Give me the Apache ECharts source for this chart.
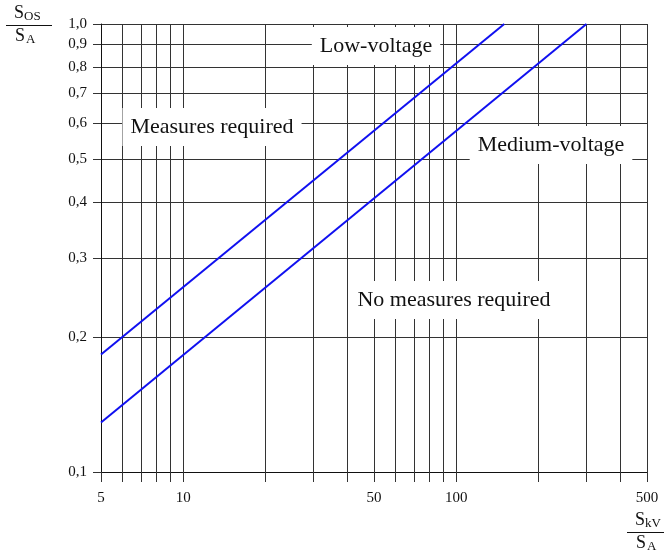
<!DOCTYPE html>
<html>
<head>
<meta charset="utf-8">
<script src="https://cdn.jsdelivr.net/npm/echarts@6/dist/echarts.min.js"></script>
<style>
  html, body { margin: 0; padding: 0; background: #fff; }
  #chart { width: 664px; height: 556px; }
</style>
</head>
<body>
<div id="chart"></div>
<script>
// grid positions and labels on both log axes
const xTicks = [5, 6, 7, 8, 9, 10, 20, 30, 40, 50, 60, 70, 80, 90, 100, 200, 300, 400, 500];
const xLabels = [5, 10, 50, 100, 500];
const yTicks = [0.1, 0.2, 0.3, 0.4, 0.5, 0.6, 0.7, 0.8, 0.9, 1.0];
const yLabels = [0.1, 0.2, 0.3, 0.4, 0.5, 0.6, 0.7, 0.8, 0.9, 1.0];

// limit lines (S_kV/S_A, S_OS/S_A)
const lowVoltage = [[5, 0.183], [150, 1.0]];
const mediumVoltage = [[5, 0.129], [300, 1.0]];

const serif = 'Liberation Serif';

function boxLabel(text, x, y) {
    return {
        type: 'text',
        x: x,
        y: y,
        z: 100,
        style: {
            text: text,
            font: '22px "Liberation Serif"',
            fill: '#111',
            align: 'center',
            verticalAlign: 'middle',
            backgroundColor: '#fff',
            padding: [8, 8, 8, 8]
        }
    };
}

function txt(s, x, y, size) {
    return { type: 'text', x: x, y: y, style: { text: s, font: size + 'px "Liberation Serif"', fill: '#111' } };
}

// S_top / S_bottom written as a stacked fraction
function fraction(x, y, topSub, bottomSub, lineLeft, lineRight) {
    return [
        txt('S', x, y, 18),
        txt(topSub, x + 10, y + 6, 13),
        { type: 'line', shape: { x1: lineLeft, y1: y + 21.5, x2: lineRight, y2: y + 21.5 }, style: { stroke: '#111', lineWidth: 1 } },
        txt('S', x + 1, y + 23, 18),
        txt(bottomSub, x + 12, y + 29, 13)
    ];
}

const chart = echarts.init(document.getElementById('chart'));

const option = {
    backgroundColor: '#fff',
    animation: false,
    grid: {
        left: 101,
        right: 17,
        top: 24,
        bottom: 84
    },
    xAxis: {
        type: 'log',
        logBase: 10,
        min: 5,
        max: 500,
        axisLine: { show: true, lineStyle: { color: '#111', width: 1 } },
        axisTick: {
            show: true,
            inside: false,
            length: 10,
            customValues: xTicks,
            lineStyle: { color: '#333' }
        },
        axisLabel: {
            customValues: xLabels,
            margin: 19,
            fontFamily: serif,
            fontSize: 15,
            color: '#111',
            formatter: v => String(Math.round(v))
        },
        splitLine: { show: true, lineStyle: { color: '#333', width: 1 } }
    },
    yAxis: {
        type: 'log',
        logBase: 10,
        min: 0.1,
        max: 1.0,
        axisLine: { show: true, lineStyle: { color: '#111', width: 1 } },
        axisTick: {
            show: true,
            inside: false,
            length: 8,
            customValues: yTicks,
            lineStyle: { color: '#333' }
        },
        axisLabel: {
            customValues: yLabels,
            margin: 14,
            fontFamily: serif,
            fontSize: 15,
            color: '#111',
            formatter: v => v.toFixed(1).replace('.', ',')
        },
        splitLine: { show: true, lineStyle: { color: '#333', width: 1 } }
    },
    series: [
        {
            name: 'Low-voltage',
            type: 'line',
            data: lowVoltage,
            symbol: 'none',
            lineStyle: { color: '#1010f0', width: 2 },
            z: 5
        },
        {
            name: 'Medium-voltage',
            type: 'line',
            data: mediumVoltage,
            symbol: 'none',
            lineStyle: { color: '#1010f0', width: 2 },
            z: 5
        }
    ],
    graphic: [
        boxLabel('Low-voltage', 376, 46),
        boxLabel('Measures required', 212, 127),
        boxLabel('Medium-voltage', 551, 145),
        boxLabel('No measures required', 454, 300)
    ]
        .concat(fraction(14, 4, 'OS', 'A', 6, 52))
        .concat(fraction(635, 511, 'kV', 'A', 627, 664))
};

chart.setOption(option);
</script>
</body>
</html>
